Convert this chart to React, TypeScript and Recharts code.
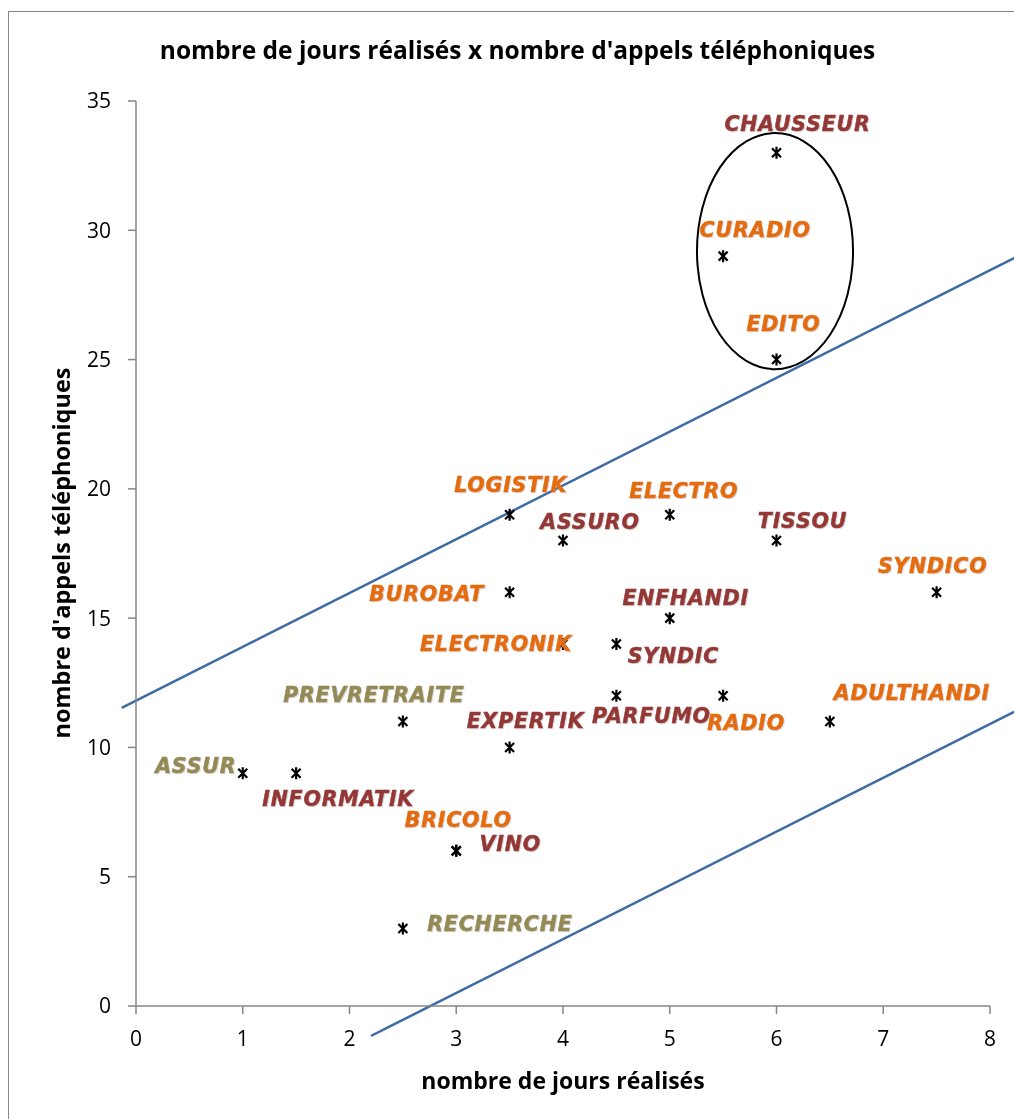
import React from 'react';
import {
  ScatterChart,
  Scatter,
  XAxis,
  YAxis,
  ReferenceLine,
  ReferenceArea,
} from 'recharts';

// one entry per dossier
const names = [
  'CHAUSSEUR', 'CURADIO', 'EDITO', 'LOGISTIK', 'ELECTRO', 'ASSURO', 'TISSOU',
  'SYNDICO', 'BUROBAT', 'ENFHANDI', 'ELECTRONIK', 'SYNDIC', 'PREVRETRAITE',
  'EXPERTIK', 'PARFUMO', 'RADIO', 'ADULTHANDI', 'ASSUR', 'INFORMATIK',
  'BRICOLO', 'VINO', 'RECHERCHE',
];
const days = [6, 5.5, 6, 3.5, 5, 4, 6, 7.5, 3.5, 5, 4, 4.5, 2.5, 3.5, 4.5, 5.5, 6.5, 1, 1.5, 3, 3, 2.5];
const calls = [33, 29, 25, 19, 19, 18, 18, 16, 16, 15, 14, 14, 11, 10, 12, 12, 11, 9, 9, 6, 6, 3];
const groups = [
  'b', 'a', 'a', 'a', 'a', 'b', 'b',
  'a', 'a', 'b', 'a', 'b', 'c',
  'b', 'b', 'a', 'a', 'c', 'b',
  'a', 'b', 'c',
];

const xTicks = [0, 1, 2, 3, 4, 5, 6, 7, 8];
const yTicks = [0, 5, 10, 15, 20, 25, 30, 35];

// band limits drawn across the cloud
const upperBand = [{ x: -0.134, y: 11.53 }, { x: 8.3, y: 29.08 }];
const lowerBand = [{ x: 2.2, y: -1.16 }, { x: 8.3, y: 11.53 }];

// the circled group
const circledDays = [5.255, 6.717];
const circledCalls = [24.63, 33.76];

const groupColor: Record<string, string> = {
  a: '#E46C0A',
  b: '#953735',
  c: '#948A54',
};

// label placement relative to each point (px)
const labelOffset: Record<string, [number, number]> = {
  CHAUSSEUR: [21, -22],
  CURADIO: [32, -19],
  EDITO: [7, -29],
  LOGISTIK: [1, -23],
  ELECTRO: [14, -17],
  ASSURO: [27, -12],
  TISSOU: [26, -13],
  SYNDICO: [-4, -19],
  BUROBAT: [-83, 9],
  ENFHANDI: [16, -13],
  ELECTRONIK: [-67, 7],
  SYNDIC: [57, 19],
  PREVRETRAITE: [-29, -20],
  EXPERTIK: [16, -19],
  PARFUMO: [35, 27],
  RADIO: [23, 34],
  ADULTHANDI: [82, -22],
  ASSUR: [-47, 0],
  INFORMATIK: [42, 33],
  BRICOLO: [2, -24],
  VINO: [54, 0],
  RECHERCHE: [97, 3],
};

const points = names.map((name, i) => ({
  name,
  x: days[i],
  y: calls[i],
  group: groups[i],
}));

const axisFont = '"Open Sans", "Liberation Sans", sans-serif';
const labelFont = '"DejaVu Sans", sans-serif';

function StarPoint(props: any) {
  const { cx, cy, payload } = props;
  const [dx, dy] = labelOffset[payload.name] || [0, -15];
  return (
    <g>
      <path
        d={`M${cx - 4.5},${cy - 4.5}L${cx + 4.5},${cy + 4.5}M${cx - 4.5},${cy + 4.5}L${cx + 4.5},${cy - 4.5}M${cx},${cy - 6}L${cx},${cy + 6}`}
        stroke="#000"
        strokeWidth={2.2}
        fill="none"
      />
      <text
        x={cx + dx}
        y={cy + dy}
        textAnchor="middle"
        fill={groupColor[payload.group]}
        fontFamily={labelFont}
        fontWeight="bold"
        fontStyle="italic"
        fontSize={20.5}
        letterSpacing={0.8}
        stroke={groupColor[payload.group]}
        strokeWidth={0.5}
        filter="url(#soft)"
      >
        {payload.name}
      </text>
    </g>
  );
}

function Ellipse(props: any) {
  const { x, y, width, height } = props;
  return (
    <ellipse
      cx={x + width / 2}
      cy={y + height / 2}
      rx={width / 2}
      ry={height / 2}
      fill="none"
      stroke="#000"
      strokeWidth={2}
    />
  );
}

export default function App() {
  return (
    <div
      style={{
        position: 'fixed',
        left: 8,
        top: 11,
        width: 1020,
        height: 1120,
        overflow: 'hidden',
        borderLeft: '1px solid #868686',
        borderTop: '1px solid #868686',
        fontFamily: axisFont,
      }}
    >
      <style>{'html, body { overflow: hidden; }'}</style>
      <svg width={0} height={0} style={{ position: 'absolute' }}>
        <defs>
          <filter id="soft" x="-5%" y="-20%" width="110%" height="140%">
            <feDropShadow dx={1} dy={1} stdDeviation={0.6} floodColor="#999" floodOpacity={0.35} />
          </filter>
        </defs>
      </svg>
      <div
        style={{
          position: 'absolute',
          left: 0,
          width: 1017,
          top: 21,
          textAlign: 'center',
          fontWeight: 'bold',
          fontSize: 24.5,
          color: '#000',
          whiteSpace: 'nowrap',
        }}
      >
        nombre de jours réalisés x nombre d'appels téléphoniques
      </div>
      <div
        style={{
          position: 'absolute',
          left: 127,
          width: 854,
          top: 1052,
          textAlign: 'center',
          fontWeight: 'bold',
          fontSize: 23,
          color: '#000',
        }}
      >
        nombre de jours réalisés
      </div>
      <div
        style={{
          position: 'absolute',
          left: 52,
          top: 541,
          width: 0,
          height: 0,
        }}
      >
        <div
          style={{
            position: 'absolute',
            left: -250,
            top: -16,
            width: 500,
            textAlign: 'center',
            fontWeight: 'bold',
            fontSize: 23.5,
            color: '#000',
            whiteSpace: 'nowrap',
            transform: 'rotate(-90deg)',
          }}
        >
          nombre d'appels téléphoniques
        </div>
      </div>
      <ScatterChart
        width={1015}
        height={1107}
        margin={{ top: 89, right: 34, bottom: 13, left: 0 }}
      >
        <XAxis
          type="number"
          dataKey="x"
          domain={[0, 8]}
          ticks={xTicks}
          interval={0}
          height={100}
          stroke="#868686"
          strokeWidth={1.5}
          tickSize={8}
          tickMargin={17}
          tick={{ fill: '#000', fontSize: 21, fontFamily: axisFont }}
          allowDataOverflow
        />
        <YAxis
          type="number"
          dataKey="y"
          domain={[0, 35]}
          ticks={yTicks}
          interval={0}
          width={127}
          stroke="#868686"
          strokeWidth={1.5}
          tickSize={8}
          tickMargin={17}
          tick={{ fill: '#000', fontSize: 21, fontFamily: axisFont }}
          allowDataOverflow
        />
        <ReferenceArea
          x1={circledDays[0]}
          x2={circledDays[1]}
          y1={circledCalls[0]}
          y2={circledCalls[1]}
          ifOverflow="visible"
          shape={Ellipse}
        />
        <ReferenceLine
          segment={upperBand}
          ifOverflow="visible"
          stroke="#3F6BA3"
          strokeWidth={2.5}
        />
        <ReferenceLine
          segment={lowerBand}
          ifOverflow="visible"
          stroke="#3F6BA3"
          strokeWidth={2.5}
        />
        <Scatter data={points} shape={StarPoint} isAnimationActive={false} />
      </ScatterChart>
    </div>
  );
}
